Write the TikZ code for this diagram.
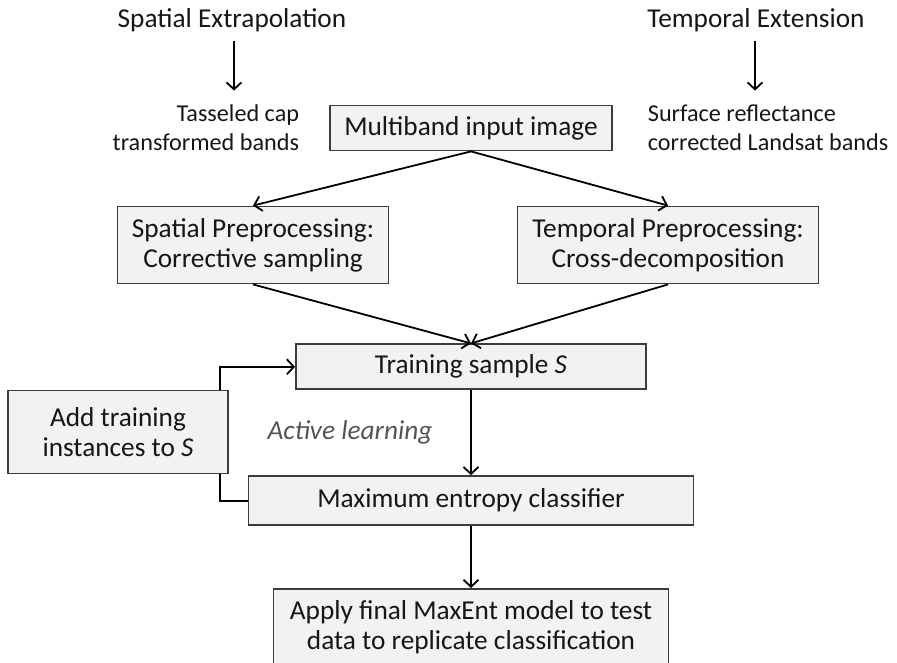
\documentclass[tikz,border=0pt]{standalone}
\usepackage{fontspec}
\setmainfont{Carlito}
\usetikzlibrary{positioning, arrows.meta}
\definecolor{boxfill}{HTML}{F2F2F2}
\definecolor{boxline}{HTML}{3C3C3C}
\definecolor{txt}{HTML}{161616}
\definecolor{note}{HTML}{555555}

\begin{document}
\begin{tikzpicture}[x=1pt, y=1pt, node distance={60pt}, line width=1.8pt, >={Straight Barb[length=7pt,width=15pt]}, font=\fontsize{27.3}{30}\selectfont, text=txt, main/.style = {draw=boxline, fill=boxfill, rectangle, align=center, inner sep=0pt}, plain/.style = {align=center, inner sep=0pt}, side/.style = {inner sep=0pt, font=\fontsize{24.2}{29}\selectfont}]
			\useasboundingbox (0,0) rectangle (897,-663);
			\node[main, minimum width=282, minimum height=45] (1) at (471,-128) {Multiband input image};
			\node[plain] (2) at (232,-20) {Spatial Extrapolation};
			\node[plain] (3) at (756,-20) {Temporal Extension};
			\node[side, align=right, anchor=east] (4) at (300,-128) {Tasseled cap\\transformed bands};
			\node[side, align=left, anchor=west] (5) at (647,-128) {Surface reflectance\\corrected Landsat bands};
			\node[main, minimum width=271, minimum height=77] (6) at (253,-245) {Spatial Preprocessing:\\Corrective sampling};
			\node[main, minimum width=301, minimum height=77] (7) at (668,-245) {Temporal Preprocessing:\\Cross-decomposition};
			\node[main, minimum width=350, minimum height=45] (8) [below=192pt of 1] {Training sample \textit{S}};
			\node[main, minimum width=445, minimum height=49] (9) [below=85pt of 8] {Maximum entropy classifier};
			\node[main, minimum width=395, minimum height=76] (10) [below=62pt of 9] {Apply final MaxEnt model to test\\data to replicate classification};
			\node[main, minimum width=220, minimum height=83] (11) at (118,-432) {Add training\\instances to \textit{S}};
			\node[plain, text=note, font=\fontsize{27.3}{30}\selectfont\itshape] (12) at (350,-432) {Active learning};

			\draw[->] ([xshift=2pt,yshift=-8pt]2.south) -- ([xshift=2pt,yshift=-58pt]2.south);
			\draw[->] ([xshift=-1pt,yshift=-8pt]3.south) -- ([xshift=-1pt,yshift=-58pt]3.south);
			\draw[->] (1.south) -- (6.north);
			\draw[->] (1.south) -- (7.north);
			\draw[->] (6.south) -- (8.north);
			\draw[->] (7.south) -- (8.north);
			\draw[->] (8.south) -- (9.north);
			\draw[->] (9.south) -- (10.north);
			\draw (9.west) -| ([xshift=-9pt]11.south east);
			\draw[->] ([xshift=-9pt]11.north east) |- (8.west);
		\end{tikzpicture}
\end{document}
